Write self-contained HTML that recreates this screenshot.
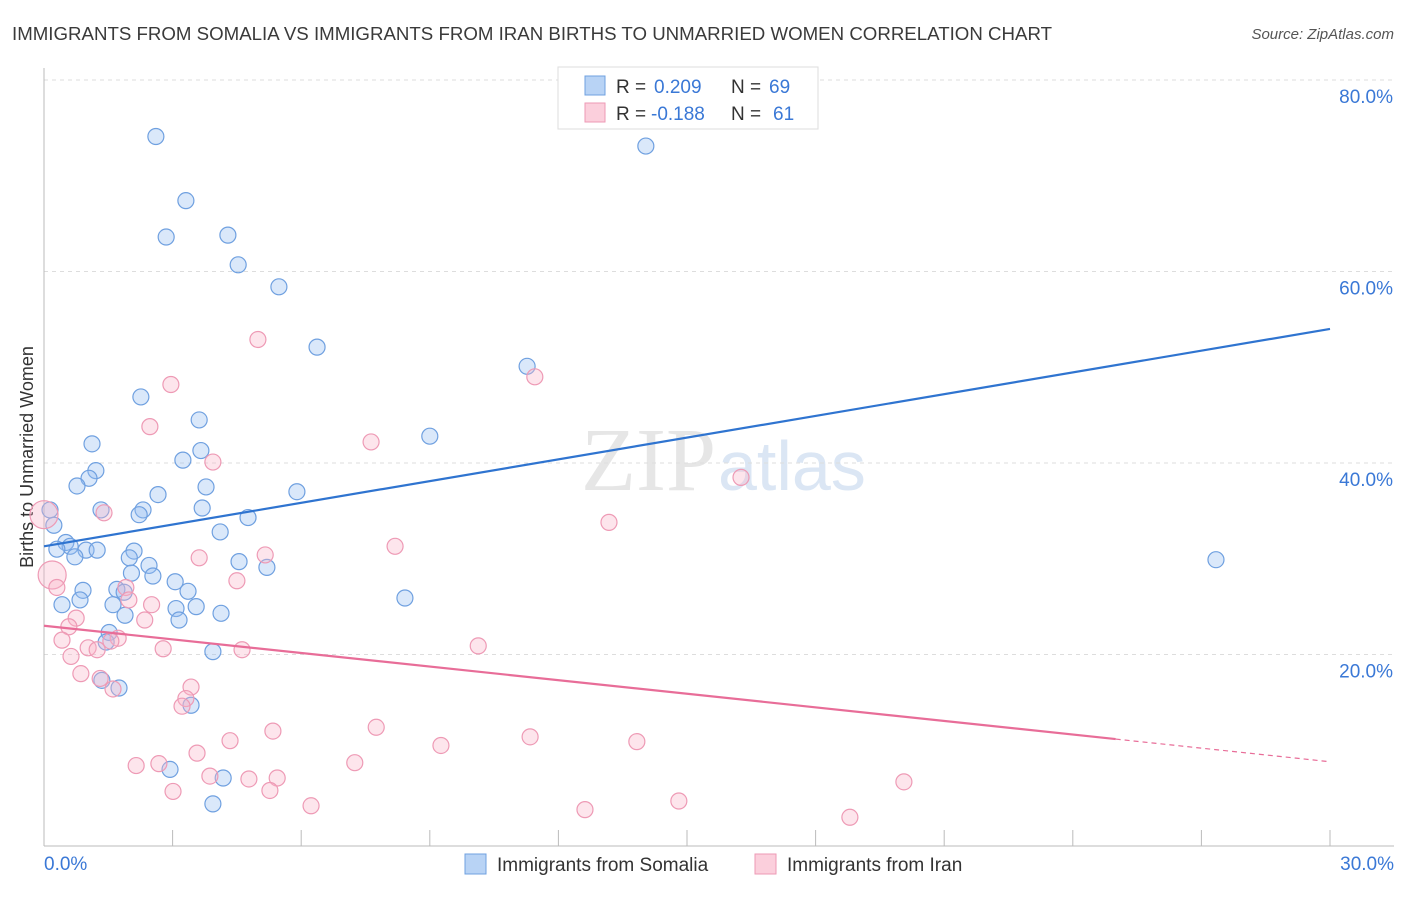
<!DOCTYPE html>
<html><head><meta charset="utf-8"><style>
body{margin:0;background:#fff;font-family:"Liberation Sans",sans-serif}
svg text{font-family:"Liberation Sans",sans-serif}
svg text.serif{font-family:"Liberation Serif",serif}
</style></head><body>
<svg id="chart" width="1406" height="892">
<text x="12" y="40" font-size="18" fill="#3a3a3a" textLength="1040" lengthAdjust="spacingAndGlyphs">IMMIGRANTS FROM SOMALIA VS IMMIGRANTS FROM IRAN BIRTHS TO UNMARRIED WOMEN CORRELATION CHART</text>
<text x="1394" y="39" font-size="15" fill="#555" font-style="italic" text-anchor="end">Source: ZipAtlas.com</text>
<text x="33" y="457" font-size="18" fill="#333" text-anchor="middle" transform="rotate(-90 33 457)">Births to Unmarried Women</text>
<text class="serif" x="716" y="490" font-size="90" fill="#e6e6e6" text-anchor="end">ZIP</text>
<text x="718" y="490" font-size="70" fill="#dbe6f4">atlas</text>
<g id="grid"></g><g id="axes"></g><g id="pts"></g><g id="lines"></g>
<g>
<rect x="558" y="67" width="260" height="62" fill="#fff" stroke="#ddd"/>
<rect x="585" y="76" width="20" height="19" fill="#b8d3f5" stroke="#6fa0e0"/>
<rect x="585" y="103" width="20" height="19" fill="#fbcfdc" stroke="#ee9ab5"/>
<text x="616" y="93" font-size="19" fill="#333">R =</text>
<text x="654" y="93" font-size="19" fill="#3a78d6">0.209</text>
<text x="731" y="93" font-size="19" fill="#333">N =</text>
<text x="769" y="93" font-size="19" fill="#3a78d6">69</text>
<text x="616" y="120" font-size="19" fill="#333">R =</text>
<text x="651" y="120" font-size="19" fill="#3a78d6">-0.188</text>
<text x="731" y="120" font-size="19" fill="#333">N =</text>
<text x="773" y="120" font-size="19" fill="#3a78d6">61</text>
</g>
<g>
<rect x="465" y="854" width="21" height="20" fill="#b8d3f5" stroke="#6fa0e0"/>
<text x="497" y="871" font-size="19" fill="#333">Immigrants from Somalia</text>
<rect x="755" y="854" width="21" height="20" fill="#fbcfdc" stroke="#ee9ab5"/>
<text x="787" y="871" font-size="19" fill="#333">Immigrants from Iran</text>
</g>
</svg>
<script>
const yTicks=[20,40,60,80];
const xTickLabels=["0.0%","30.0%"];
const somaliaX=[2.61,14.04,3.31,2.85,4.29,4.53,5.48,6.37,11.27,2.26,3.62,9.0,1.12,3.66,3.24,1.21,1.05,0.77,3.78,2.66,5.9,1.33,2.31,2.22,3.69,4.76,0.14,0.23,4.11,0.51,0.61,0.3,0.98,1.24,2.1,0.72,1.99,4.55,5.2,2.45,2.54,2.04,3.06,0.91,1.7,1.87,3.36,0.84,8.42,27.34,0.42,1.61,3.08,3.55,4.13,1.89,3.15,1.52,1.45,3.94,1.35,1.75,3.43,2.94,4.18,3.94];
const somaliaY=[74.1,73.1,67.4,63.6,63.8,60.7,58.4,52.1,50.1,46.9,44.5,42.8,42.0,41.3,40.3,39.2,38.4,37.6,37.5,36.7,37.0,35.1,35.1,34.6,35.3,34.3,35.1,33.5,32.8,31.7,31.3,31.0,30.9,30.9,30.8,30.2,30.1,29.7,29.1,29.3,28.2,28.5,27.6,26.7,26.8,26.5,26.6,25.7,25.9,29.9,25.2,25.2,24.8,25.0,24.3,24.1,23.6,22.3,21.3,20.3,17.3,16.5,14.7,8.0,7.1,4.4];
const iranX=[4.99,11.45,2.96,2.47,7.63,3.94,16.26,0,1.4,13.18,8.19,5.16,3.62,0.19,4.5,0.3,1.91,1.98,2.51,0.75,2.35,0.58,1.73,0.42,1.56,10.13,1.03,1.24,2.78,4.62,0.63,0.86,1.31,3.43,1.61,3.31,3.22,7.75,5.34,11.34,4.34,9.26,13.83,3.57,2.15,2.68,7.25,3.87,4.78,5.44,3.01,5.27,6.23,14.81,12.62,20.06,18.8];
const iranY=[52.9,49.0,48.2,43.8,42.2,40.1,38.5,34.6,34.8,33.8,31.3,30.4,30.1,28.3,27.7,27.0,27.0,25.7,25.2,23.8,23.6,22.9,21.7,21.5,21.4,20.9,20.7,20.5,20.6,20.5,19.8,18.0,17.5,16.6,16.4,15.4,14.6,12.4,12.0,11.4,11.0,10.5,10.9,9.7,8.4,8.6,8.7,7.3,7.0,7.1,5.7,5.8,4.2,4.7,3.8,6.7,3.0];
const somaliaTrend=[31.3,54.0];
const iranTrend=[23.0,8.8];
const X=v=>44+v/30*1286, Y=v=>846-v/20*191.5;
const NS="http://www.w3.org/2000/svg";
function mk(p,tag,a){const e=document.createElementNS(NS,tag);for(const k in a)e.setAttribute(k,a[k]);document.getElementById(p).appendChild(e);return e;}
yTicks.forEach(t=>{
 const g=mk('grid','line',{x1:44,x2:1394,y1:Y(t),y2:Y(t),stroke:'#ddd','stroke-dasharray':'4 4'});
 
 
 const l=mk('grid','text',{x:1393,y:Y(t)+23,'font-size':19,fill:'#3a78d6','text-anchor':'end'});
 l.textContent=t.toFixed(1)+'%';
 
 
});
const ax=mk('axes','line',{x1:44,x2:44,y1:68,y2:846,stroke:'#bbb'});


const bx=mk('axes','line',{x1:44,x2:1394,y1:846,y2:846,stroke:'#bbb'});


for(let i=1;i<=10;i++){const t=mk('axes','line',{x1:X(i*3),x2:X(i*3),y1:830,y2:846,stroke:'#bbb'});
 
 }
[[0,'start',44],[30,'end',1394]].forEach((d,i)=>{const t=mk('axes','text',{x:d[2],y:870,'font-size':19,fill:'#3a78d6','text-anchor':d[1]});
 t.textContent=xTickLabels[i];
 
 });
somaliaX.forEach((x,i)=>{const c=mk('pts','circle',{cx:X(x),cy:Y(somaliaY[i]),r:8,fill:'rgba(150,190,240,0.35)',stroke:'#6fa0e0','stroke-width':1.2});
 
 });
iranX.forEach((x,i)=>{const c=mk('pts','circle',{cx:X(x),cy:Y(iranY[i]),r:(x<0.25&&iranY[i]>28)?14:8,fill:'rgba(248,180,200,0.35)',stroke:'#ee9ab5','stroke-width':1.2});
 
 });
const bl=mk('lines','line',{x1:X(0),y1:Y(somaliaTrend[0]),x2:X(30),y2:Y(somaliaTrend[1]),stroke:'#2f74d0','stroke-width':2.2});


const f=v=>iranTrend[0]+(iranTrend[1]-iranTrend[0])*v/30;
const pl=mk('lines','line',{x1:X(0),y1:Y(f(0)),x2:X(25),y2:Y(f(25)),stroke:'#e86d98','stroke-width':2.2});


const pd=mk('lines','line',{x1:X(25),y1:Y(f(25)),x2:X(30),y2:Y(f(30)),stroke:'#e86d98','stroke-width':1.2,'stroke-dasharray':'5 4'});


</script>
</body></html>
